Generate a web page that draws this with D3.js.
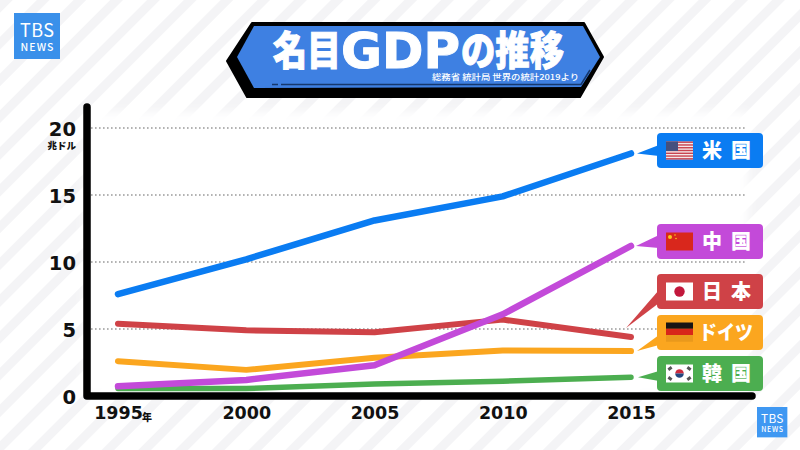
<!DOCTYPE html>
<html><head><meta charset="utf-8">
<script src="https://cdn.jsdelivr.net/npm/d3@7/dist/d3.min.js"></script>
<style>html,body{margin:0;padding:0;background:#fff;overflow:hidden}svg{display:block}
text{font-family:"Noto Sans CJK JP",sans-serif}
.num{font-family:"DejaVu Sans",sans-serif;font-weight:700}</style></head><body>
<svg id="c" width="800" height="450"></svg>
<script>
const years=[1995,2000,2005,2010,2015];
const usa=[7.6,10.2,13.1,14.9,18.1];
const china=[0.73,1.2,2.3,6.1,11.2];
const japan=[5.4,4.9,4.75,5.7,4.4];
const germany=[2.6,1.95,2.85,3.4,3.35];
const korea=[0.56,0.56,0.9,1.1,1.4];
const yTicks=[0,5,10,15,20];
const titleParts=["名目","GDP","の推移"];
const sourceText="総務省 統計局 世界の統計2019より";
const names=["米 国","中 国","日 本","ドイツ","韓 国"];

const svg=d3.select("#c");
const defs=svg.append("defs");
const pat=defs.append("pattern").attr("id","st").attr("patternUnits","userSpaceOnUse")
 .attr("width",26).attr("height",26).attr("patternTransform","rotate(45)");
pat.append("rect").attr("width",9).attr("height",26).attr("fill","#f4f4f6");
defs.append("filter").attr("id","soft").attr("x","-10%").attr("y","-10%").attr("width","120%").attr("height","120%")
 .append("feGaussianBlur").attr("stdDeviation",5);
svg.append("rect").attr("width",800).attr("height",450).attr("fill","#fff");
svg.append("rect").attr("width",800).attr("height",450).attr("fill","url(#st)");
svg.append("rect").attr("x",84).attr("y",112).attr("width",664).attr("height",284).attr("fill","#fff").attr("filter","url(#soft)");

const x=d3.scalePoint().domain(years).range([118,631]);
const y=d3.scaleLinear().domain([0,20]).range([396,128]);

// grid
svg.append("g").selectAll("line").data(yTicks.filter(d=>d>0)).join("line")
 .attr("x1",91).attr("x2",747).attr("y1",d=>y(d)).attr("y2",d=>y(d))
 .attr("stroke","#9a9a9a").attr("stroke-width",1.3).attr("stroke-dasharray","1.6 2.4");

// series
const line=d3.line().x((d,i)=>x(years[i])).y(d=>y(d));
const series=[
 {v:usa,c:"#0a7cf2",w:6.5},
 {v:korea,c:"#4cae50",w:5.5},
 {v:japan,c:"#cf4247",w:6},
 {v:germany,c:"#fba61f",w:6},
 {v:china,c:"#c34ad9",w:6.5}];
svg.append("g").selectAll("path").data(series).join("path")
 .attr("d",d=>line(d.v)).attr("fill","none").attr("stroke",d=>d.c).attr("stroke-width",d=>d.w)
 .attr("stroke-linecap","round").attr("stroke-linejoin","round");

// axes
const yAxis=svg.append("g").attr("transform","translate(87,0)").call(d3.axisLeft(y).tickValues(yTicks).tickSize(0).tickPadding(11));
yAxis.select(".domain").remove();
yAxis.selectAll("text").attr("class","num").attr("font-size",19.5).attr("fill","#111").attr("font-family",null).attr("dy","0.36em");
const xAxis=svg.append("g").attr("transform","translate(0,396)").call(d3.axisBottom(x).tickFormat(d3.format("d")).tickSize(0).tickPadding(11));
xAxis.select(".domain").remove();
xAxis.selectAll("text").attr("class","num").attr("font-size",17.5).attr("fill","#111").attr("font-family",null).attr("dy","0.71em");
svg.append("path").attr("d",d3.line()([[87,107],[87,396],[752,396]])).attr("fill","none").attr("stroke","#000")
 .attr("stroke-width",7.5).attr("stroke-linecap","round").attr("stroke-linejoin","round");
svg.append("text").attr("x",76).attr("y",149).attr("text-anchor","end").attr("font-size",9.5).attr("font-weight",900).attr("fill","#111").text("兆ドル");
svg.append("text").attr("x",142).attr("y",421).attr("font-size",10).attr("font-weight",900).attr("fill","#111").text("年");

// title banner
svg.append("polygon").attr("points","252,23 584,23 603,57 580,97 247,97 227,61").attr("fill","#000").attr("stroke","#000").attr("stroke-width",2).attr("stroke-linejoin","round");
svg.append("polygon").attr("points","254,26 583,26 600,57 581,87 254,88 237,57").attr("fill","#3e80e2");
svg.append("path").attr("d","M272,84.5H278M281,84.5H581L590,70").attr("fill","none").attr("stroke","#16386e").attr("stroke-width",1.6);
const tt=svg.append("text").attr("fill","#fff").attr("stroke","#fff").attr("stroke-width",1);
tt.append("tspan").attr("x",273).attr("y",65).attr("font-size",40).attr("font-weight",900).attr("textLength",68).attr("lengthAdjust","spacingAndGlyphs").text(titleParts[0]);
tt.append("tspan").attr("x",341).attr("y",68).attr("font-size",49).attr("font-family","DejaVu Sans").attr("font-weight",700).attr("textLength",119).attr("lengthAdjust","spacingAndGlyphs").text(titleParts[1]);
tt.append("tspan").attr("x",461).attr("y",65).attr("font-size",40).attr("font-weight",900).attr("textLength",103).attr("lengthAdjust","spacingAndGlyphs").text(titleParts[2]);
svg.append("text").attr("x",579).attr("y",80).attr("text-anchor","end").attr("font-size",8).attr("font-weight",500).attr("fill","#fff")
 .attr("textLength",147).attr("lengthAdjust","spacingAndGlyphs").text(sourceText);

// logos
function logo(px,py,s,col){
 const g=svg.append("g").attr("transform",`translate(${px},${py}) scale(${s})`);
 g.append("rect").attr("width",46).attr("height",46).attr("fill",col);
 g.append("text").attr("x",23).attr("y",23.5).attr("text-anchor","middle").attr("font-size",18).attr("font-weight",400).attr("fill","#fff")
  .attr("font-family","Roboto,sans-serif").attr("textLength",34).attr("lengthAdjust","spacing").text("TBS");
 g.append("text").attr("x",23).attr("y",37.5).attr("text-anchor","middle").attr("font-size",10.5).attr("font-weight",500).attr("fill","#fff")
  .attr("font-family","Roboto,sans-serif").attr("textLength",33).attr("lengthAdjust","spacing").text("NEWS");
}
logo(14,13,1,"#3a90ea");
logo(757,407,0.66,"#3f98f2");

// country labels
const boxX=657,boxW=106,boxH=35,flagX=666,flagW=27,flagH=18;
const tops=[133,224,274,315,356];
const boxes=[
 {c:"#0a7cf2",t:names[0],f:"us",v:usa,tip:637,b:[145,156]},
 {c:"#c34ad9",t:names[1],f:"cn",v:china,tip:636,b:[235,248]},
 {c:"#cf4247",t:names[2],f:"jp",v:japan,tip:626,tipDy:-9,b:[290,303]},
 {c:"#fba61f",t:names[3],f:"de",v:germany,tip:637,b:[335,345]},
 {c:"#4cae50",t:names[4],f:"kr",v:korea,tip:638,b:[371,381]}];
boxes.forEach((b,i)=>{
 const g=svg.append("g"), top=tops[i], tipY=y(b.v[b.v.length-1])+(b.tipDy||0);
 g.append("polygon").attr("points",`${b.tip},${tipY} ${boxX+2},${b.b[0]} ${boxX+2},${b.b[1]}`).attr("fill",b.c);
 g.append("rect").attr("x",boxX).attr("y",top).attr("width",boxW).attr("height",boxH).attr("rx",4).attr("fill",b.c);
 const f=g.append("g").attr("transform",`translate(${flagX},${top+8.5})`);
 const r=(x0,y0,w,h,c)=>f.append("rect").attr("x",x0).attr("y",y0).attr("width",w).attr("height",h).attr("fill",c);
 if(b.f==="us"){
  r(0,0,flagW,flagH,"#f4e8e8");
  d3.range(0,7).forEach(k=>r(0,k*2.77,flagW,1.4,"#c8424e"));
  r(0,0,12,9.5,"#45507e");
 } else if(b.f==="cn"){
  r(0,0,flagW,flagH,"#d9271c");
  f.append("circle").attr("cx",4).attr("cy",4.5).attr("r",2).attr("fill","#f7c81e");
  f.append("circle").attr("cx",9).attr("cy",2.5).attr("r",.8).attr("fill","#f7c81e");
  f.append("circle").attr("cx",10).attr("cy",6).attr("r",.8).attr("fill","#f7c81e");
 } else if(b.f==="jp"){
  r(0,0,flagW,flagH,"#fff");
  f.append("circle").attr("cx",13.5).attr("cy",9).attr("r",5.2).attr("fill","#c2183c");
 } else if(b.f==="de"){
  r(0,-1,flagW,6.3,"#181414");r(0,5.3,flagW,6.3,"#d8261a");r(0,11.6,flagW,6.6,"#e9991c");
 } else {
  r(0,0,flagW,flagH,"#fff");
  f.append("path").attr("d","M9.2,9a4.3,4.3 0 0 1 8.6,0z").attr("fill","#cc2b3e");
  f.append("path").attr("d","M9.2,9a4.3,4.3 0 0 0 8.6,0z").attr("fill","#23467f");
  [[4,4],[23,4],[4,14],[23,14]].forEach(p=>f.append("rect").attr("x",p[0]-2).attr("y",p[1]-1.5).attr("width",4).attr("height",3).attr("fill","#555")
    .attr("transform",`rotate(${(p[0]<13)===(p[1]<9)?-35:35} ${p[0]} ${p[1]})`));
 }
 const de=b.f==="de";
 g.append("text").attr("x",de?699:702).attr("y",top+25).attr("font-size",20).attr("font-weight",900).attr("fill","#fff")
  .attr("textLength",de?54:49).attr("lengthAdjust",de?"spacingAndGlyphs":"spacing").text(b.t);
});
</script></body></html>
